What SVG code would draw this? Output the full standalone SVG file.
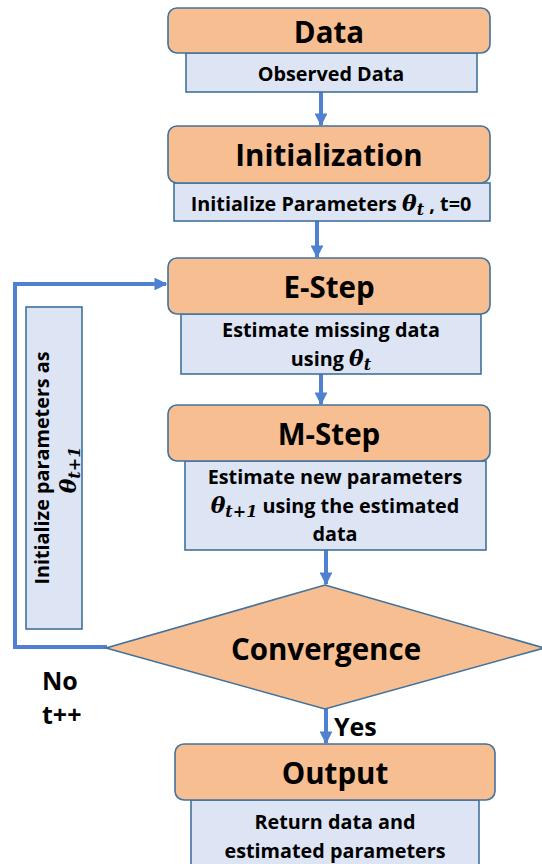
<svg xmlns="http://www.w3.org/2000/svg" width="542" height="864" viewBox="0 0 542 864">
<defs>
<style>
.hd{fill:#F7BE91;stroke:#41719C;stroke-width:1.6}
.sb{fill:#DDE5F4;stroke:#41719C;stroke-width:1.6}
.t{font-family:"Open Sans","Noto Sans",sans-serif;font-weight:bold;fill:#000;text-anchor:middle}
.big{font-size:29.5px}
.sm{font-size:19.8px}
.m{font-family:"DejaVu Serif","Liberation Serif",serif;font-style:italic;font-weight:bold}
.lb{font-size:25px;text-anchor:start}
.con{stroke:#4F81D0;stroke-width:4;fill:none}
</style>
<marker id="ah" viewBox="0 0 10 10" refX="9" refY="5" markerWidth="3.2" markerHeight="3.2" orient="auto" markerUnits="strokeWidth">
<path d="M0,0 L10,5 L0,10 Z" fill="#4F81D0"/>
</marker>
</defs>
<rect width="542" height="864" fill="#fff"/>
<g id="connectors">
<line class="con" x1="321" y1="92" x2="321" y2="125" marker-end="url(#ah)"/>
<line class="con" x1="317" y1="221" x2="317" y2="257" marker-end="url(#ah)"/>
<line class="con" x1="321" y1="374" x2="321" y2="404" marker-end="url(#ah)"/>
<line class="con" x1="326" y1="550" x2="326" y2="584" marker-end="url(#ah)"/>
<line class="con" x1="326" y1="709" x2="326" y2="743" marker-end="url(#ah)"/>
<polyline class="con" points="107,647 15,647 15,284 166,284" marker-end="url(#ah)"/>
</g>
<g id="data">
<rect class="sb" x="186" y="53" width="291" height="39"/>
<rect class="hd" x="168" y="8" width="322" height="45" rx="9"/>
<text class="t big" x="329" y="43">Data</text>
<text class="t sm" x="331" y="81">Observed Data</text>
</g>
<g id="initialization">
<rect class="sb" x="174" y="183" width="316" height="38"/>
<rect class="hd" x="168" y="126" width="322" height="57" rx="9"/>
<text class="t big" x="329" y="166">Initialization</text>
<text class="t sm" x="331" y="211">Initialize Parameters <tspan class="m" font-size="22">θ</tspan><tspan class="m" font-size="16" dy="4">t</tspan><tspan dy="-4"> , t=0</tspan></text>
</g>
<g id="estep">
<rect class="sb" x="181" y="314" width="300" height="60"/>
<rect class="hd" x="168" y="258" width="322" height="56" rx="9"/>
<text class="t big" x="329" y="298">E-Step</text>
<text class="t sm" x="331" y="337">Estimate missing data</text>
<text class="t sm" x="331" y="366">using <tspan class="m" font-size="22">θ</tspan><tspan class="m" font-size="16" dy="4">t</tspan></text>
</g>
<g id="mstep">
<rect class="sb" x="185" y="461" width="301" height="89"/>
<rect class="hd" x="168" y="405" width="322" height="56" rx="9"/>
<text class="t big" x="329" y="445">M-Step</text>
<text class="t sm" x="335" y="484">Estimate new parameters</text>
<text class="t sm" x="335" y="513"><tspan class="m" font-size="22">θ</tspan><tspan class="m" font-size="16" dy="4">t+1</tspan><tspan dy="-4"> using the estimated</tspan></text>
<text class="t sm" x="335" y="541">data</text>
</g>
<g id="convergence">
<polygon class="hd" points="325,585 544,648 325,709 106,648"/>
<text class="t big" x="326" y="660">Convergence</text>
</g>
<g id="output">
<rect class="sb" x="191" y="800" width="288" height="70"/>
<rect class="hd" x="175" y="744" width="320" height="56" rx="9"/>
<text class="t big" x="335" y="784">Output</text>
<text class="t sm" x="335" y="829">Return data and</text>
<text class="t sm" x="335" y="858">estimated parameters</text>
</g>
<g id="loop-note">
<rect class="sb" x="26" y="307" width="56" height="322"/>
<text class="t sm" transform="translate(49,468) rotate(-90)">Initialize parameters as</text>
<text class="t sm" transform="translate(76,470) rotate(-90)"><tspan class="m" font-size="22">θ</tspan><tspan class="m" font-size="16" dy="4">t+1</tspan></text>
</g>
<g id="labels">
<text class="t lb" x="42" y="690">No</text>
<text class="t lb" x="42" y="724">t++</text>
<text class="t lb" x="334" y="736">Yes</text>
</g>
</svg>
